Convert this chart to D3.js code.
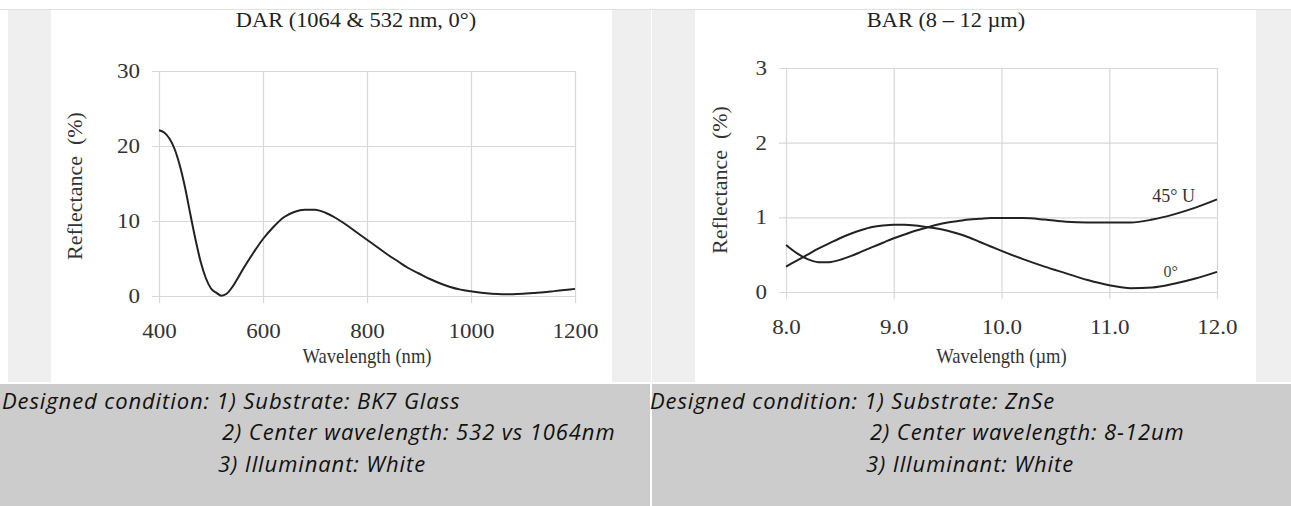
<!DOCTYPE html>
<html>
<head>
<meta charset="utf-8">
<script src="https://cdn.jsdelivr.net/npm/d3@7"></script>
<style>
  body { margin: 0; background: #fff; }
  svg { display: block; }
</style>
</head>
<body>
<svg id="chart" width="1291" height="506"></svg>
<script>
// DAR panel (1064 & 532 nm, 0 deg)
const darWavelength = [400, 410, 420, 430, 440, 450, 460, 470, 480, 490, 500, 510, 520, 530, 540, 550, 560, 580, 600, 620, 640, 660, 680, 700, 720, 740, 760, 780, 800, 820, 840, 860, 880, 900, 920, 940, 960, 980, 1000, 1020, 1040, 1060, 1080, 1100, 1120, 1140, 1160, 1180, 1200]
const darReflectance = [22.1, 21.8, 21.0, 19.6, 17.4, 14.5, 11.0, 7.6, 4.6, 2.4, 1.0, 0.45, 0.05, 0.3, 1.1, 2.2, 3.4, 5.6, 7.6, 9.2, 10.5, 11.2, 11.5, 11.5, 11.1, 10.4, 9.5, 8.5, 7.5, 6.5, 5.5, 4.6, 3.7, 3.0, 2.3, 1.7, 1.2, 0.85, 0.62, 0.42, 0.3, 0.25, 0.25, 0.3, 0.4, 0.5, 0.65, 0.8, 0.95]
const darXTicks = [400, 600, 800, 1000, 1200]
const darYTicks = [0, 10, 20, 30]

// BAR panel (8 - 12 um)
const barWavelength = [8.0, 8.1, 8.2, 8.3, 8.4, 8.5, 8.6, 8.7, 8.8, 8.9, 9.0, 9.1, 9.2, 9.3, 9.4, 9.5, 9.6, 9.7, 9.8, 9.9, 10.0, 10.2, 10.4, 10.6, 10.8, 11.0, 11.2, 11.4, 11.6, 11.8, 12.0]
const bar0 = [0.34, 0.42, 0.50, 0.58, 0.65, 0.72, 0.78, 0.83, 0.87, 0.89, 0.90, 0.90, 0.89, 0.87, 0.85, 0.82, 0.78, 0.73, 0.67, 0.61, 0.55, 0.44, 0.34, 0.25, 0.16, 0.09, 0.05, 0.06, 0.11, 0.18, 0.27]
const bar45 = [0.63, 0.52, 0.44, 0.40, 0.40, 0.43, 0.48, 0.54, 0.60, 0.66, 0.72, 0.77, 0.82, 0.86, 0.90, 0.93, 0.95, 0.97, 0.98, 0.99, 0.99, 0.99, 0.97, 0.94, 0.93, 0.93, 0.93, 0.97, 1.04, 1.13, 1.24]
const barXTicks = [8, 9, 10, 11, 12]
const barYTicks = [0, 1, 2, 3]

const captionLeft = ['Designed condition: 1) Substrate: BK7 Glass', '2) Center wavelength: 532 vs 1064nm', '3) Illuminant: White']
const captionRight = ['Designed condition: 1) Substrate: ZnSe', '2) Center wavelength: 8-12um', '3) Illuminant: White']

const svg = d3.select('#chart')
const serif = '"Liberation Serif", "Times New Roman", serif'

// scale a text horizontally around its own anchor point
const stretch = function (sel, s) {
  sel.each(function () {
    const t = d3.select(this)
    const x = +t.attr('x') || 0
    const y = +t.attr('y') || 0
    t.attr('transform', 'translate(' + x + ',' + y + ') scale(' + s + ',1)')
      .attr('x', 0).attr('y', 0)
  })
}

// page frame
svg.append('line').attr('x1', 0).attr('x2', 1291).attr('y1', 9.5).attr('y2', 9.5)
  .attr('stroke', '#e2e2e2')
svg.append('rect').attr('x', 8).attr('y', 10).attr('width', 643).attr('height', 372).attr('fill', '#efefef')
svg.append('rect').attr('x', 652).attr('y', 10).attr('width', 639).attr('height', 372).attr('fill', '#efefef')
svg.append('rect').attr('x', 51).attr('y', 10).attr('width', 561).attr('height', 372).attr('fill', '#fff')
svg.append('rect').attr('x', 695).attr('y', 10).attr('width', 561).attr('height', 372).attr('fill', '#fff')
svg.append('rect').attr('x', 0).attr('y', 384).attr('width', 650).attr('height', 122).attr('fill', '#cccccc')
svg.append('rect').attr('x', 652).attr('y', 384).attr('width', 639).attr('height', 122).attr('fill', '#cccccc')

function drawPanel (p) {
  const g = svg.append('g')
  const x = d3.scaleLinear().domain(p.xDomain).range(p.xRange)
  const y = d3.scaleLinear().domain(p.yDomain).range(p.yRange)
  const plotW = p.xRange[1] - p.xRange[0]
  const plotH = p.yRange[0] - p.yRange[1]

  const ya = g.append('g')
    .attr('transform', 'translate(' + (p.xRange[0] - 7) + ',0)')
    .call(d3.axisLeft(y).tickValues(p.yTicks).tickFormat(d3.format('d')).tickSize(-(plotW + 7)).tickPadding(12))
  const xa = g.append('g')
    .attr('transform', 'translate(0,' + (p.yRange[0] + 7) + ')')
    .call(d3.axisBottom(x).tickValues(p.xTicks).tickFormat(p.xFormat).tickSize(-(plotH + 7)).tickPadding(21))

  for (const a of [ya, xa]) {
    a.select('.domain').remove()
    a.selectAll('line').attr('stroke', '#d8d8d8').attr('stroke-width', 1.2)
    a.selectAll('text').attr('font-family', serif).attr('font-size', 20).attr('fill', '#333')
      .call(stretch, 1.15)
  }

  const line = d3.line()
    .x(d => x(d[0]))
    .y(d => y(d[1]))
    .curve(d3.curveMonotoneX)
  for (const s of p.series) {
    g.append('path')
      .attr('d', line(d3.zip(p.wavelength, s)))
      .attr('fill', 'none')
      .attr('stroke', '#222')
      .attr('stroke-width', 2)
  }

  g.append('text')
    .attr('x', p.titleX).attr('y', 27)
    .attr('text-anchor', 'middle')
    .attr('font-family', serif).attr('font-size', 20).attr('fill', '#222')
    .text(p.title)
    .call(stretch, 1.12)

  g.append('text')
    .attr('x', (p.xRange[0] + p.xRange[1]) / 2).attr('y', 363)
    .attr('text-anchor', 'middle')
    .attr('font-family', serif).attr('font-size', 20).attr('fill', '#333')
    .text(p.xLabel)
    .call(stretch, 0.93)

  g.append('text')
    .attr('transform', 'translate(' + p.yLabelX + ',' + p.yLabelY + ') rotate(-90)')
    .attr('text-anchor', 'middle')
    .attr('font-family', serif).attr('font-size', 22).attr('fill', '#333')
    .attr('xml:space', 'preserve')
    .style('white-space', 'pre')
    .text('Reflectance  (%)')

  return { x, y, g }
}

drawPanel({
  xDomain: [400, 1200], xRange: [159, 575],
  yDomain: [0, 30], yRange: [296, 71],
  xTicks: darXTicks, yTicks: darYTicks, xFormat: d3.format('d'),
  wavelength: darWavelength, series: [darReflectance],
  title: 'DAR (1064 & 532 nm, 0°)', titleX: 356,
  xLabel: 'Wavelength (nm)', yLabelX: 82, yLabelY: 186
})

const bar = drawPanel({
  xDomain: [8, 12], xRange: [786, 1217],
  yDomain: [0, 3], yRange: [292, 68],
  xTicks: barXTicks, yTicks: barYTicks, xFormat: d3.format('.1f'),
  wavelength: barWavelength, series: [bar0, bar45],
  title: 'BAR (8 – 12 µm)', titleX: 946,
  xLabel: 'Wavelength (µm)', yLabelX: 727, yLabelY: 180
})

bar.g.append('text')
  .attr('x', 1195).attr('y', bar.y(1.22) + 1)
  .attr('text-anchor', 'end')
  .attr('font-family', serif).attr('font-size', 18).attr('fill', '#333')
  .text('45° U')
bar.g.append('text')
  .attr('x', 1178).attr('y', bar.y(0.21) + 1)
  .attr('text-anchor', 'end')
  .attr('font-family', serif).attr('font-size', 16).attr('fill', '#444')
  .text('0°')

// captions
const capFont = '"Open Sans", "DejaVu Sans", sans-serif'
const capIndent = [2, 222, 218]
const capBase = [409, 440, 472]
function caption (lines, x0) {
  svg.append('g').selectAll('text')
    .data(lines)
    .join('text')
    .attr('x', (d, i) => x0 + capIndent[i])
    .attr('y', (d, i) => capBase[i])
    .attr('font-family', capFont)
    .attr('font-style', 'italic')
    .attr('font-size', 22)
    .attr('letter-spacing', 0.9)
    .attr('fill', '#111')
    .text(d => d)
}
caption(captionLeft, 0)
caption(captionRight, 648)
</script>
</body>
</html>
